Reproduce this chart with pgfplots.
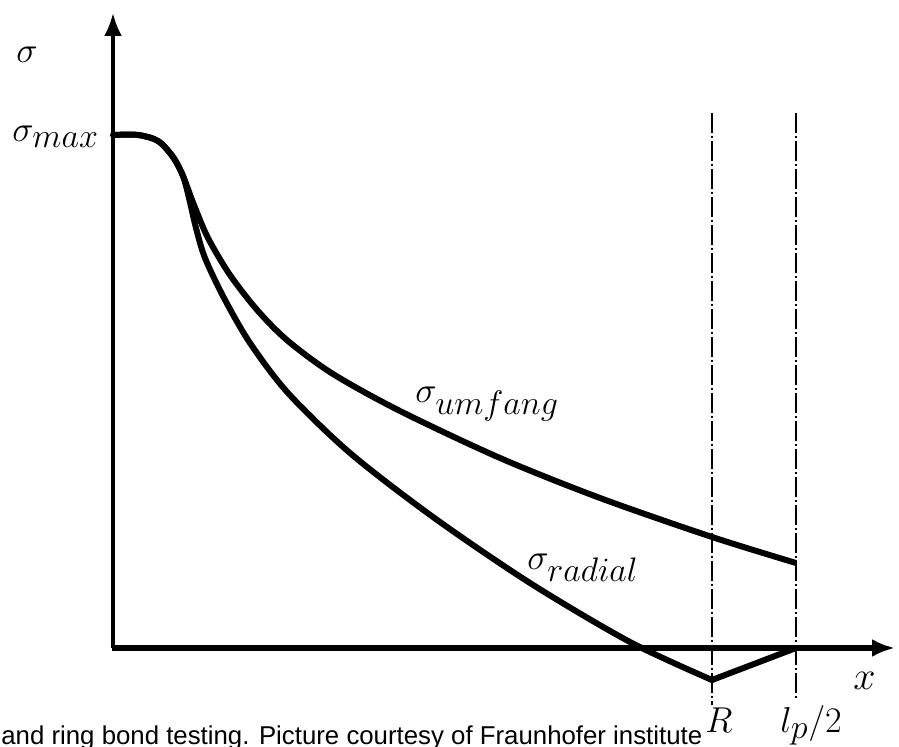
\documentclass[border=0pt]{standalone}
\usepackage{fix-cm}
\usepackage{fontspec}
\usepackage{pgfplots}
\pgfplotsset{compat=1.18}
\usetikzlibrary{arrows.meta}
\DeclareMathSizes{18}{18}{17}{12}
\newfontfamily\capfont{Liberation Sans}

\begin{document}
\begin{tikzpicture}
\begin{axis}[
    name=ax,
    scale only axis,
    width=449.5pt, height=373.5pt,
    xmin=-113, xmax=786,
    ymin=-99, ymax=648,
    hide axis,
    clip=false,
  ]
% axes
\draw[line width=2.6pt, -{Latex[length=11.5pt,width=9pt]}] (axis cs:-1,0) -- (axis cs:782,0);
\draw[line width=1.8pt, -{Latex[length=11.5pt,width=9pt]}] (axis cs:0,0) -- (axis cs:0,635);

% R and l_p/2 markers
\draw[line width=0.7pt, dash pattern=on 10pt off 1.5pt on 1pt off 1.5pt] (axis cs:599,535) -- (axis cs:599,-57);
\draw[line width=0.7pt, dash pattern=on 10pt off 1.5pt on 1pt off 1.5pt] (axis cs:683,535) -- (axis cs:683,-52);

% sigma_umfang
\addplot[black, line width=3pt, smooth, line join=round] coordinates {
(0,513)(25,513)(45,507)(60,491)(70,472)(81,443)(95,410)(117,373)(145,337)
(175,307)(220,274)(287,237)(387,190)(487,150)(599,111)(683,85)};

% sigma_radial
\addplot[black, line width=3pt, smooth, line cap=round] coordinates {
(0,513)(25,513)(45,507)(60,491)(70,472)(76,450)(83,420)(92,390)(111,350)
(137,305)(175,255)(237,195)(320,131)(417,65)(517,6)(599,-32)};
\addplot[black, line width=3pt, sharp plot, line cap=round] coordinates {(599,-32)(683,0)};

% labels
\node[font=\fontsize{18}{22}\selectfont] at (axis cs:-86,593) {$\sigma$};
\node[font=\fontsize{18}{22}\selectfont, anchor=base west, inner sep=0pt] at (axis cs:-101,506) {$\sigma_{max}$};
\node[font=\fontsize{18}{22}\selectfont, anchor=base west, inner sep=0pt] at (axis cs:302,245) {$\sigma_{umfang}$};
\node[font=\fontsize{18}{22}\selectfont, anchor=base west, inner sep=0pt] at (axis cs:414,78) {$\sigma_{radial}$};
\node[font=\fontsize{20}{24}\selectfont, anchor=base west, inner sep=0pt] at (axis cs:740,-42) {$x$};
\node[font=\fontsize{18}{22}\selectfont, anchor=base, inner sep=0pt] at (axis cs:606,-85) {$R$};
\node[font=\fontsize{18}{22}\selectfont, anchor=base west, inner sep=0pt] at (axis cs:667,-85) {$l_p/2$};
\node[font=\capfont\fontsize{12.9}{15}\selectfont, anchor=base west, inner sep=0pt] at (axis cs:-112,-97) {and ring bond testing. Picture courtesy of Fraunhofer institute};
\end{axis}
\pgfresetboundingbox
\path[use as bounding box] (ax.south west) rectangle (ax.north east);
\end{tikzpicture}
\end{document}
